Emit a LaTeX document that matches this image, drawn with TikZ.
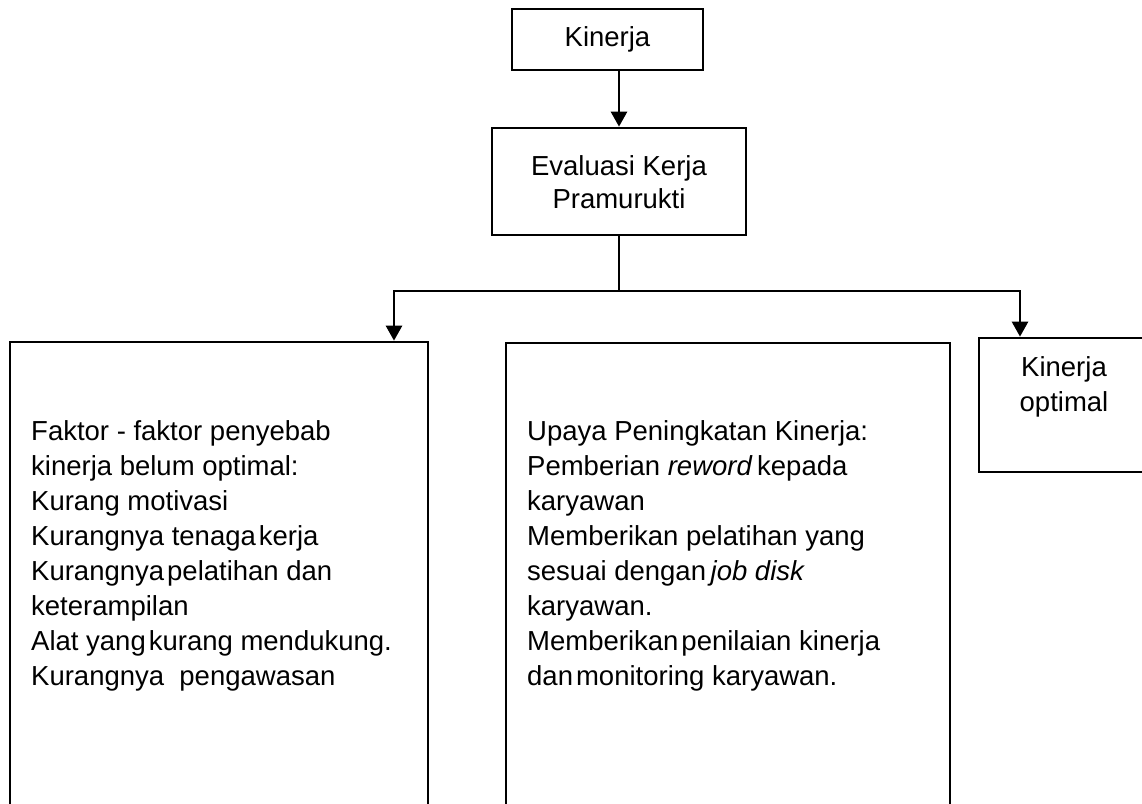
\documentclass[tikz,border=0pt]{standalone}
\usepackage{fontspec}
\setmainfont{Liberation Sans}
\usetikzlibrary{arrows.meta}
\newcommand{\nsp}{\hspace{3pt}}
\begin{document}
\begin{tikzpicture}[x=1pt,y=-1pt,
  box/.style={draw, line width=2.7pt, rectangle, inner sep=0pt},
  conn/.style={line width=2.7pt},
  arr/.style={conn, -{Triangle[width=16pt,length=15pt]}},
  txt/.style={inner sep=0pt, font=\fontsize{27.5}{35}\selectfont},
  ctxt/.style={txt, align=center},
  ltxt/.style={txt, align=left}]
\useasboundingbox (0,0) rectangle (1142,803);
\clip (0,0) rectangle (1142,803);
% boxes
\node[box, minimum width=191pt, minimum height=61pt, font=\fontsize{27.5}{35}\selectfont] (kin) at (607.5,39.5) {Kinerja};
\node[box, minimum width=254pt, minimum height=107pt] (eva) at (619,181.5) {};
\node[ctxt, font=\fontsize{27.5}{33}\selectfont] (evat) at (619,182.5) {Evaluasi Kerja\\Pramurukti};
\node[box, minimum width=418pt, minimum height=500pt] (fak) at (219,592) {};
\node[box, minimum width=444pt, minimum height=500pt] (upa) at (728,593) {};
\node[box, minimum width=191pt, minimum height=134pt] (opt) at (1074.5,405) {};
\node[ctxt] (optt) at (1064,386.5) {Kinerja\\optimal};
% texts
\node[ltxt, anchor=north west] (fakt) at (31,420) {Faktor - faktor penyebab\\
kinerja belum optimal:\\
Kurang motivasi\\
Kurangnya tenaga\nsp kerja\\
Kurangnya\nsp pelatihan dan\\
keterampilan\\
Alat yang\nsp kurang mendukung.\\
Kurangnya\ \ pengawasan};
\node[ltxt, anchor=north west] (upat) at (527,420) {Upaya Peningkatan Kinerja:\\
Pemberian \textit{reword}\,kepada\\
karyawan\\
Memberikan pelatihan yang\\
sesuai dengan\,\textit{job disk}\\
karyawan.\\
Memberikan\nsp penilaian kinerja\\
dan\nsp monitoring karyawan.};
% connectors
\coordinate (split) at (619,291);
\coordinate (lt) at (394,291);
\coordinate (rt) at (1020,291);
\draw[arr] (eva.north |- kin.south) -- (eva.north);
\draw[conn] (eva.south) -- (split);
\draw[arr] (split) -- (lt) -- (lt |- fak.north);
\draw[arr] (split) -- (rt) -- (rt |- opt.north);
\end{tikzpicture}
\end{document}
